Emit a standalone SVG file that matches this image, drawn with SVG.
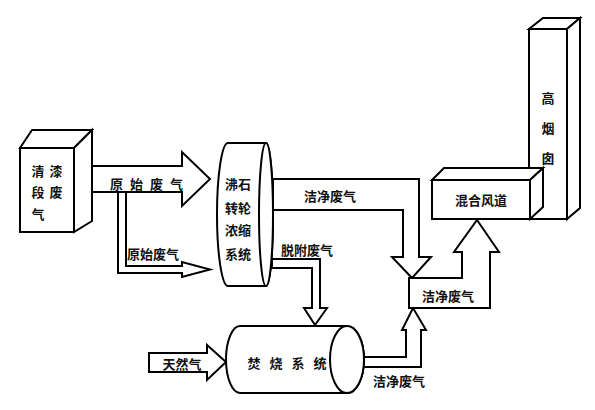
<svg xmlns="http://www.w3.org/2000/svg" width="595" height="410" viewBox="0 0 595 410">
<style>
.s{fill:#fff;stroke:#000;stroke-width:2;stroke-linejoin:miter}
.t{font-family:"Noto Sans CJK SC","Noto Sans CJK TC",sans-serif;font-weight:700;font-size:13px;fill:#111;text-anchor:middle;dominant-baseline:central}
</style>
<rect width="595" height="410" fill="#fff"/>
<g id="connectors">
<polygon class="s" points="92,166 182,166 182,152 210,179 182,206 182,192 92,192"/>
<polygon class="s" points="118,192 118,273 182,273 182,277 210,269.5 182,262 182,266 126,266 126,192"/>
<polygon class="s" points="273,179 419,179 419,257 431,257 412,278 392,257 403,257 403,210 273,210"/>
<polygon class="s" points="272,259 320,259 320,308 327,308 315,325 304,308 312,308 312,268 272,268"/>
<polygon class="s" points="149,353 207,353 207,345 226,362 207,380 207,372 149,372"/>
<polygon class="s" points="363,357 406,357 406,330 402,330 413,308 426,330 421,330 421,367 363,367"/>
<rect class="s" x="359" y="357" width="4" height="10"/>
</g>
<g id="source">
<polygon class="s" points="20,148 32,130 92,130 74,148"/>
<polygon class="s" points="74,148 92,130 92,221 74,232"/>
<rect class="s" x="20" y="148" width="54" height="84"/>
<text class="t" x="38" y="170">清</text><text class="t" x="56" y="170">漆</text>
<text class="t" x="38" y="191">段</text><text class="t" x="56" y="191">废</text>
<text class="t" x="38" y="213">气</text>
</g>
<g id="wheel">
<path class="s" d="M228,143 A11,71.5 0 0 0 228,286 L266,286 A7,71.5 0 0 0 266,143 Z"/>
<ellipse class="s" cx="266" cy="214.5" rx="7" ry="71.5"/>
<text class="t" x="238" y="183">沸石</text>
<text class="t" x="238" y="207">转轮</text>
<text class="t" x="238" y="229">浓缩</text>
<text class="t" x="238" y="253">系统</text>
</g>
<g id="incinerator">
<path class="s" d="M240,326 A14,33.5 0 0 0 240,393 L347,393 A17,33.5 0 0 0 347,326 Z"/>
<ellipse class="s" cx="347" cy="359.5" rx="17" ry="33.5"/>
<text class="t" x="291.5" y="362" letter-spacing="9">焚烧系统</text>
</g>
<g id="junction">
<polygon class="s" points="409,278 462,278 462,252 454,252 477,220 499,252 490,252 490,308 409,308"/>
<text class="t" x="448" y="295">洁净废气</text>
</g>
<g id="chimney">
<polygon class="s" points="529,29 543,18 580,18 567,29"/>
<polygon class="s" points="567,29 580,18 580,208 567,219"/>
<rect class="s" x="529" y="29" width="38" height="190"/>
<text class="t" x="548" y="97">高</text>
<text class="t" x="548" y="127">烟</text>
<text class="t" x="548" y="157">囱</text>
</g>
<g id="duct">
<polygon class="s" points="432,180 444,168 543,168 530,180"/>
<polygon class="s" points="530,180 543,168 543,207 530,219"/>
<rect class="s" x="432" y="180" width="98" height="39"/>
<text class="t" x="481" y="199">混合风道</text>
</g>
<g id="labels">
<text class="t" x="150" y="183" letter-spacing="7">原始废气</text>
<text class="t" x="153" y="253">原始废气</text>
<text class="t" x="330" y="195">洁净废气</text>
<text class="t" x="307" y="249">脱附废气</text>
<text class="t" x="182" y="363">天然气</text>
<text class="t" x="399" y="380">洁净废气</text>
</g>
</svg>
